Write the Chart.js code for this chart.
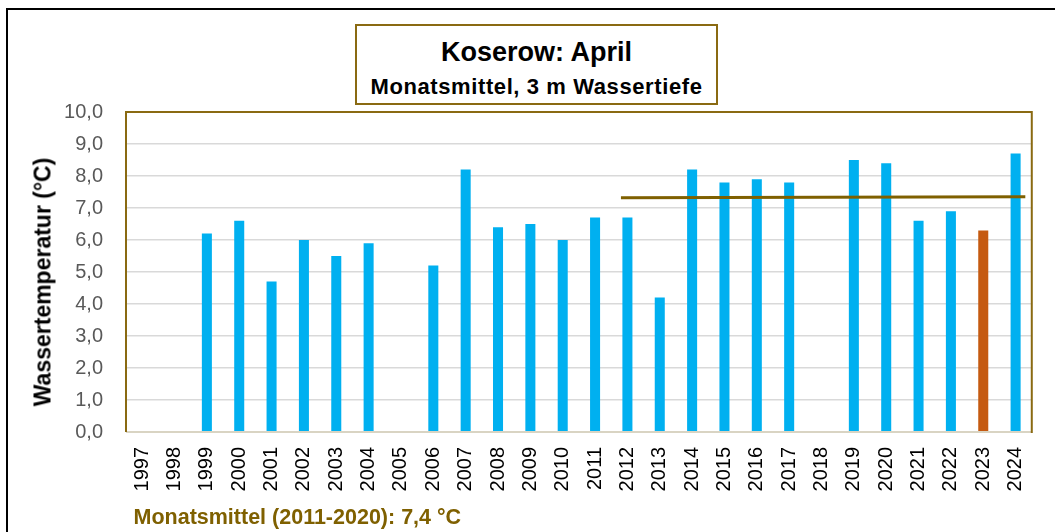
<!DOCTYPE html>
<html>
<head>
<meta charset="utf-8">
<script src="https://cdn.jsdelivr.net/npm/chart.js@4/dist/chart.umd.min.js"></script>
<style>
  html, body { margin:0; padding:0; background:#fff; }
  #wrap { position:relative; width:1055px; height:532px; overflow:hidden; font-family:"Liberation Sans", Arial, sans-serif; }
  #frame { position:absolute; left:6px; top:8px; width:1100px; height:600px; border-left:2px solid #000; border-top:2px solid #000; box-sizing:border-box; }
  canvas { position:absolute; left:0; top:0; }
  #tbox { position:absolute; left:355px; top:24px; width:363px; height:81px; border:2px solid #8A6A12; box-sizing:border-box; background:#fff; }
  .t { position:absolute; left:0; width:100%; text-align:center; font-weight:bold; color:#000; white-space:nowrap; }
  #t1 { font-size:27px; line-height:27px; top:13px; }
  #t2 { font-size:22px; line-height:22px; top:49.5px; letter-spacing:0.6px; }
  #ytitle { position:absolute; left:43px; top:281.5px; transform:translate(-50%,-50%) rotate(-90deg); font-size:23px; line-height:23px; font-weight:bold; color:#000; white-space:nowrap; }
  #note { position:absolute; left:133.5px; top:507px; font-size:21.5px; line-height:21.5px; font-weight:bold; color:#7F6000; white-space:nowrap; }
</style>
</head>
<body>
<div id="wrap">
  <canvas id="c" width="1055" height="532"></canvas>
  <div id="frame"></div>
  <div id="tbox">
    <div class="t" id="t1">Koserow: April</div>
    <div class="t" id="t2">Monatsmittel, 3 m Wassertiefe</div>
  </div>
  <div id="ytitle">Wassertemperatur (°C)</div>
  <div id="note">Monatsmittel (2011-2020): 7,4 °C</div>
</div>
<script>
// ---- data ----
const years = ['1997','1998','1999','2000','2001','2002','2003','2004','2005','2006','2007','2008','2009','2010','2011','2012','2013','2014','2015','2016','2017','2018','2019','2020','2021','2022','2023','2024'];
const temps = [null,null,6.2,6.6,4.7,6.0,5.5,5.9,null,5.2,8.2,6.4,6.5,6.0,6.7,6.7,4.2,8.2,7.8,7.9,7.8,null,8.5,8.4,6.6,6.9,6.3,8.7];
const highlightYear = '2023';
const meanLineYears = [2011.8, 2024.3];
const meanLineValues = [7.32, 7.35];
const yMin = 0, yMax = 10, yStep = 1;

const barColors = years.map(y => y === highlightYear ? '#C55A11' : '#00B0F0');
const meanData = meanLineYears.map((x, i) => ({x: x, y: meanLineValues[i]}));

const framePlugin = {
  id: 'frame',
  afterDatasetsDraw(chart) {
    const {ctx, chartArea: a} = chart;
    ctx.save();
    ctx.lineWidth = 2;
    ctx.strokeStyle = '#D9D4C3';
    ctx.beginPath(); ctx.moveTo(a.left, a.bottom); ctx.lineTo(a.right, a.bottom); ctx.stroke();
    ctx.strokeStyle = '#8A6A12';
    ctx.beginPath();
    ctx.moveTo(a.left, a.bottom); ctx.lineTo(a.left, a.top); ctx.lineTo(a.right, a.top); ctx.lineTo(a.right, a.bottom + 1);
    ctx.stroke();
    ctx.restore();
  }
};

new Chart(document.getElementById('c'), {
  type:'bar',
  data: {
    labels: years,
    datasets: [
      { type:'line', data: meanData, xAxisID:'xm', yAxisID:'y', borderColor:'#7F6000', borderWidth:3, pointRadius:0, order:0, fill:false, tension:0 },
      { type:'bar', data: temps, xAxisID:'x', yAxisID:'y', backgroundColor: barColors, grouped:false, barPercentage:0.31, categoryPercentage:1, order:1 }
    ]
  },
  options: {
    responsive:false,
    animation:false,
    devicePixelRatio:1,
    layout:{ padding:{ top:112, right:22, bottom:0, left:0 } },
    plugins:{ legend:{display:false}, tooltip:{enabled:false}, title:{display:false} },
    scales:{
      x:{
        type:'category',
        offset:true,
        grid:{ display:false, drawTicks:false, offset:true },
        border:{ display:false },
        ticks:{ maxRotation:90, minRotation:90, autoSkip:false, padding:15, color:'#000', font:{ family:'"Liberation Sans", Arial, sans-serif', size:20 } },
        afterFit(s){ s.height = 100; }
      },
      xm:{
        type:'linear', display:false, min:1996.5, max:2024.5, offset:false
      },
      y:{
        min:yMin, max:yMax,
        grid:{ color:'#D9D9D9', lineWidth:1.5, drawTicks:false },
        border:{ display:false },
        ticks:{ stepSize:yStep, padding:23, color:'#595959', font:{ family:'"Liberation Sans", Arial, sans-serif', size:20 },
          callback:(v) => Number(v).toFixed(1).replace('.', ',') },
        afterFit(s){ s.width = 126; }
      }
    }
  },
  plugins:[framePlugin]
});
</script>
</body>
</html>
